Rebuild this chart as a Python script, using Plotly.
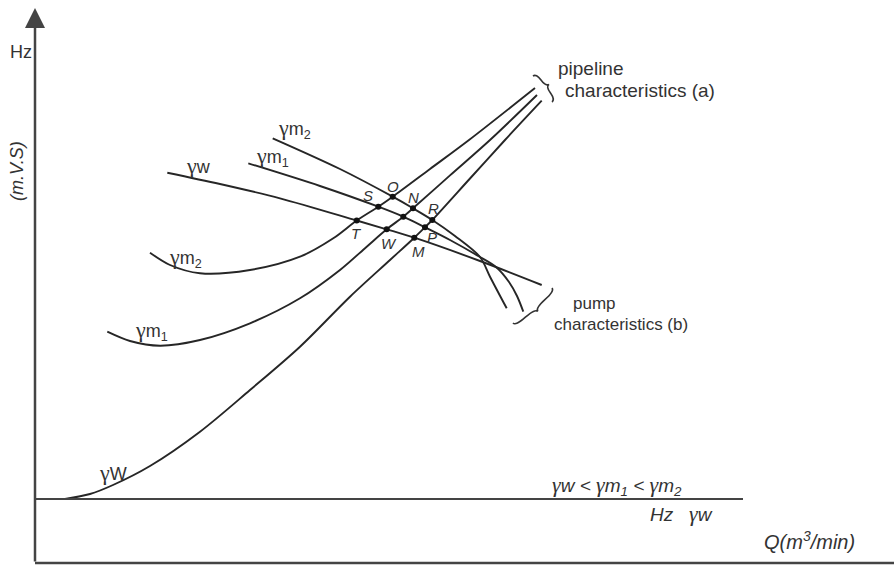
import plotly.graph_objects as go
import math

# ---- data (x to the right, y downward, figure units) ----
# pipeline characteristics (a)
pipe_w_x = [65, 90, 113, 150, 200, 250, 300, 350, 390, 414.3, 425, 432.3, 470, 505, 541.7]
pipe_w_y = [499, 494, 485, 466, 431.7, 390, 346.7, 296.7, 260, 237.7, 227.3, 220, 178.5, 140, 100.7]

pipe_m1_x = [107.3, 130, 160, 200, 250, 300, 340, 366.7, 386.7, 403.3, 413, 450, 490, 537]
pipe_m1_y = [331.7, 341, 345.7, 340, 323.3, 298.3, 270, 246.7, 229.3, 216.7, 208.3, 175.4, 140, 95]

pipe_m2_x = [150, 170, 200, 250, 300, 333.3, 356.7, 378.3, 392.7, 430, 469, 535]
pipe_m2_y = [252.7, 265, 273.3, 270, 256.7, 238.3, 220.5, 206.7, 196.7, 169, 140, 88]

# pump characteristics (b)
pump_w_x = [167.3, 220, 280, 356.7, 386.7, 414.3, 480, 541.7]
pump_w_y = [172.7, 184, 198.3, 220.5, 229.3, 237.7, 261, 285]

pump_m1_x = [248.3, 320, 378.3, 403.3, 425, 450, 480, 496, 509, 517, 523.3]
pump_m1_y = [163.3, 186, 206.7, 216.7, 227.3, 240, 257, 267, 282, 296, 311.7]

pump_m2_x = [272.7, 340, 392.7, 413, 432.3, 455, 480, 490, 506.7]
pump_m2_y = [138.3, 169, 196.7, 208.3, 220, 236, 257, 276.7, 308.3]

# operating points (intersections)
pt_names = ["O", "S", "N", "R", "T", "W", "P", "M"]
pt_x = [392.7, 378.3, 413, 432.3, 356.7, 386.7, 425, 414.3, 403.3]
pt_y = [196.7, 206.7, 208.3, 220, 220.5, 229.3, 227.3, 237.7, 216.7]
lbl_x = [393, 368, 413, 433, 356, 389, 432, 418]
lbl_y = [186, 195, 197, 208, 233, 243, 237, 251]

# curve labels
G = "<span style=\"font-family:'Liberation Serif', 'Times New Roman', serif; font-size:22px\">γ</span>"
curve_lbl = [G + "m<sub>2</sub>", G + "m<sub>1</sub>", G + "w",
             G + "m<sub>2</sub>", G + "m<sub>1</sub>", G + "W"]
curve_lbl_x = [294, 272, 198, 185, 151, 113]
curve_lbl_y = [128, 156, 165, 257, 330, 472]

# braces: end points of each brace and side its tip points to
brace_pipe = ((533, 76), (552, 102), 1)
brace_pump = ((513, 323), (552, 288), -1)

LINE = "#262626"
FONT = "Liberation Sans, Arial, sans-serif"

fig = go.Figure()

for xs, ys in [(pipe_w_x, pipe_w_y), (pipe_m1_x, pipe_m1_y), (pipe_m2_x, pipe_m2_y),
               (pump_w_x, pump_w_y), (pump_m1_x, pump_m1_y), (pump_m2_x, pump_m2_y)]:
    fig.add_trace(go.Scatter(x=xs, y=ys, mode="lines",
                             line=dict(color=LINE, width=1.9, shape="spline", smoothing=0.9),
                             hoverinfo="skip", showlegend=False))

fig.add_trace(go.Scatter(x=pt_x, y=pt_y, mode="markers",
                         marker=dict(color="#111", size=6),
                         hoverinfo="skip", showlegend=False))

for name, x, y in zip(pt_names, lbl_x, lbl_y):
    fig.add_annotation(x=x, y=y, text="<i>" + name + "</i>", showarrow=False,
                       font=dict(family=FONT, size=15, color="#333"))

for t, x, y in zip(curve_lbl, curve_lbl_x, curve_lbl_y):
    fig.add_annotation(x=x, y=y, text=t, showarrow=False,
                       font=dict(family=FONT, size=18, color="#333"))


def brace_path(a, b, side, h=4.0):
    ax_, ay_ = a
    bx_, by_ = b
    L = math.hypot(bx_ - ax_, by_ - ay_)
    ux, uy = (bx_ - ax_) / L, (by_ - ay_) / L
    nx, ny = uy * side, -ux * side

    def p(t, k):
        return (ax_ + ux * L * t + nx * h * k, ay_ + uy * L * t + ny * h * k)

    pts = [p(0, 0), p(0, 1), p(0.25, 1), p(0.5, 1), p(0.5, 2),
           p(0.5, 1), p(0.75, 1), p(1, 1), p(1, 0)]
    f = lambda q: f"{q[0]:.1f},{q[1]:.1f}"
    return (f"M {f(pts[0])} Q {f(pts[1])} {f(pts[2])} Q {f(pts[3])} {f(pts[4])} "
            f"Q {f(pts[5])} {f(pts[6])} Q {f(pts[7])} {f(pts[8])}")


for a, b, s in [brace_pipe, brace_pump]:
    fig.add_shape(type="path", path=brace_path(a, b, s), xref="x", yref="y",
                  line=dict(color="#333", width=1.6))

# axes (drawn as shapes)
AX = "#444"
fig.add_shape(type="line", x0=35, y0=563, x1=894, y1=563, line=dict(color=AX, width=2.5))
fig.add_shape(type="line", x0=35, y0=499, x1=743, y1=499, line=dict(color=AX, width=2))
fig.add_annotation(x=35, y=8, ax=35, ay=563, xref="x", yref="y", axref="x", ayref="y",
                   showarrow=True, arrowhead=2, arrowsize=1.6, arrowwidth=2.5,
                   arrowcolor=AX, text="")

ann = dict(showarrow=False, xref="x", yref="y", font=dict(family=FONT, size=18, color="#333"))
fig.add_annotation(x=21, y=52, text="Hz", **ann)
fig.add_annotation(x=17, y=171, text="<i>(m.V.S)</i>", textangle=-90, **ann)
fig.add_annotation(x=556, y=68, text="pipeline", xanchor="left",
                   showarrow=False, font=dict(family=FONT, size=19, color="#333"))
fig.add_annotation(x=563, y=90, text="characteristics (a)", xanchor="left",
                   showarrow=False, font=dict(family=FONT, size=19, color="#333"))
fig.add_annotation(x=571, y=303, text="pump", xanchor="left",
                   showarrow=False, font=dict(family=FONT, size=17, color="#333"))
fig.add_annotation(x=552, y=324, text="characteristics (b)", xanchor="left",
                   showarrow=False, font=dict(family=FONT, size=17, color="#333"))
fig.add_annotation(x=550, y=485,
                   text="<i>" + G + "w &lt; " + G + "m<sub>1</sub> &lt; " + G + "m<sub>2</sub></i>",
                   xanchor="left", showarrow=False, font=dict(family=FONT, size=19, color="#333"))
fig.add_annotation(x=648, y=513, text="<i>Hz   " + G + "w</i>", xanchor="left",
                   showarrow=False, font=dict(family=FONT, size=19, color="#333"))
fig.add_annotation(x=762, y=540, text="<i>Q(m<sup>3</sup>/min)</i>", xanchor="left",
                   showarrow=False, font=dict(family=FONT, size=20, color="#333"))

fig.update_layout(
    width=894, height=569,
    margin=dict(l=0, r=0, t=0, b=0),
    paper_bgcolor="white", plot_bgcolor="white",
    xaxis=dict(range=[0, 894], visible=False, fixedrange=True),
    yaxis=dict(range=[569, 0], visible=False, fixedrange=True),
    showlegend=False,
)

fig.write_html("out.html", config={"displayModeBar": False, "staticPlot": True},
               post_script="document.body.style.margin='0';")
